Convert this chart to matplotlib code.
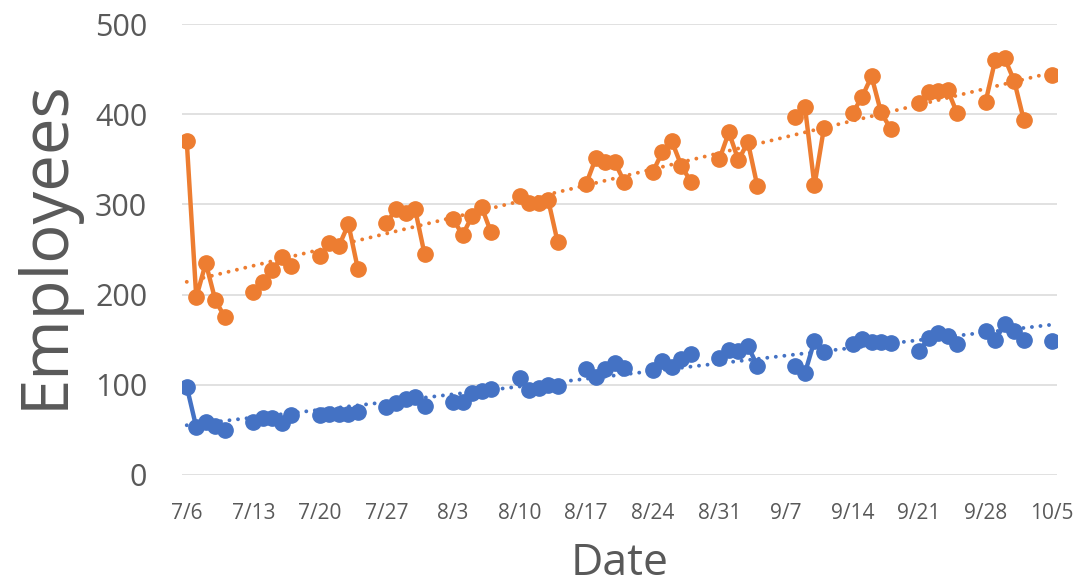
import numpy as np
import pandas as pd
import matplotlib
matplotlib.use("Agg")
import matplotlib.pyplot as plt
import matplotlib.dates as mdates

# working days with data (no weekends, no Labor Day)
dates = pd.to_datetime([
    "2020-07-06", "2020-07-07", "2020-07-08", "2020-07-09", "2020-07-10",
    "2020-07-13", "2020-07-14", "2020-07-15", "2020-07-16", "2020-07-17",
    "2020-07-20", "2020-07-21", "2020-07-22", "2020-07-23", "2020-07-24",
    "2020-07-27", "2020-07-28", "2020-07-29", "2020-07-30", "2020-07-31",
    "2020-08-03", "2020-08-04", "2020-08-05", "2020-08-06", "2020-08-07",
    "2020-08-10", "2020-08-11", "2020-08-12", "2020-08-13", "2020-08-14",
    "2020-08-17", "2020-08-18", "2020-08-19", "2020-08-20", "2020-08-21",
    "2020-08-24", "2020-08-25", "2020-08-26", "2020-08-27", "2020-08-28",
    "2020-08-31", "2020-09-01", "2020-09-02", "2020-09-03", "2020-09-04",
    "2020-09-08", "2020-09-09", "2020-09-10", "2020-09-11",
    "2020-09-14", "2020-09-15", "2020-09-16", "2020-09-17", "2020-09-18",
    "2020-09-21", "2020-09-22", "2020-09-23", "2020-09-24", "2020-09-25",
    "2020-09-28", "2020-09-29", "2020-09-30", "2020-10-01", "2020-10-02",
    "2020-10-05",
])

orange_vals = [
    370, 197, 235, 194, 175,
    203, 214, 227, 242, 232,
    243, 257, 254, 278, 228,
    279, 295, 290, 295, 245,
    284, 266, 287, 297, 269,
    309, 301, 302, 305, 258,
    323, 351, 347, 347, 325,
    336, 358, 370, 343, 325,
    350, 380, 349, 369, 320,
    397, 408, 321, 385,
    401, 419, 442, 402, 384,
    412, 425, 426, 427, 401,
    414, 460, 462, 437, 394,
    443,
]

blue_vals = [
    98, 53, 59, 54, 50,
    59, 63, 63, 58, 66,
    66, 68, 68, 68, 70,
    75, 80, 84, 87, 77,
    81, 81, 91, 93, 95,
    108, 94, 97, 100, 99,
    117, 109, 118, 124, 119,
    116, 126, 120, 129, 134,
    130, 139, 138, 143, 121,
    121, 113, 149, 136,
    145, 151, 148, 148, 146,
    137, 152, 157, 154, 145,
    160, 150, 167, 160, 150,
    149,
]

xtick_labels = ["7/6", "7/13", "7/20", "7/27", "8/3", "8/10", "8/17",
                "8/24", "8/31", "9/7", "9/14", "9/21", "9/28", "10/5"]

ORANGE = "#ED7D31"
BLUE = "#4472C4"
GRAY = "#595959"
FONT = "Open Sans"

# daily index so weekends become gaps in the lines
days = pd.date_range(dates[0], dates[-1], freq="D")
orange = pd.Series(orange_vals, index=dates).reindex(days)
blue = pd.Series(blue_vals, index=dates).reindex(days)

fig = plt.figure(figsize=(10.78, 5.83), dpi=100)
ax = fig.add_axes([182 / 1078, 1 - 475 / 583, (1057 - 182) / 1078, (475 - 24) / 583])

xnum = mdates.date2num(dates)
for vals, col in [(orange_vals, ORANGE), (blue_vals, BLUE)]:
    # linear trendline like Excel's
    k, b = np.polyfit(xnum, vals, 1)
    tx = np.array([xnum[0], xnum[-1]])
    ax.plot(tx, k * tx + b, color=col, lw=2.8, linestyle=(0, (0.01, 2.2)),
            dash_capstyle="round", zorder=2)

for s, col in [(orange, ORANGE), (blue, BLUE)]:
    ax.plot(mdates.date2num(s.index), s.values, color=col, lw=3.2,
            marker="o", markersize=11, zorder=3)

ax.set_ylim(0, 500)
ax.set_yticks(range(0, 501, 100))
ax.set_xlim(xnum[0] - 0.5, xnum[-1] + 0.5)
tick_pos = mdates.date2num(pd.date_range("2020-07-06", "2020-10-05", freq="7D"))
ax.set_xticks(tick_pos)
ax.set_xticklabels(xtick_labels)

ax.grid(axis="y", color="#D9D9D9", lw=1.1)
ax.set_axisbelow(True)
for sp in ax.spines.values():
    sp.set_visible(False)
ax.tick_params(axis="both", length=0, colors=GRAY)
ax.tick_params(axis="y", pad=25, labelsize=22)
ax.tick_params(axis="x", pad=20, labelsize=15)
for lab in ax.get_xticklabels() + ax.get_yticklabels():
    lab.set_fontfamily(FONT)

fig.text(63 / 1078, 1 - 244 / 583, "Employees", rotation=90, rotation_mode="anchor",
         ha="center", va="baseline", fontsize=47, color=GRAY, family=FONT)
fig.text(620 / 1078, 8 / 583, "Date", ha="center", va="baseline",
         fontsize=32, color=GRAY, family=FONT)

fig.savefig("out.png", dpi=100)
